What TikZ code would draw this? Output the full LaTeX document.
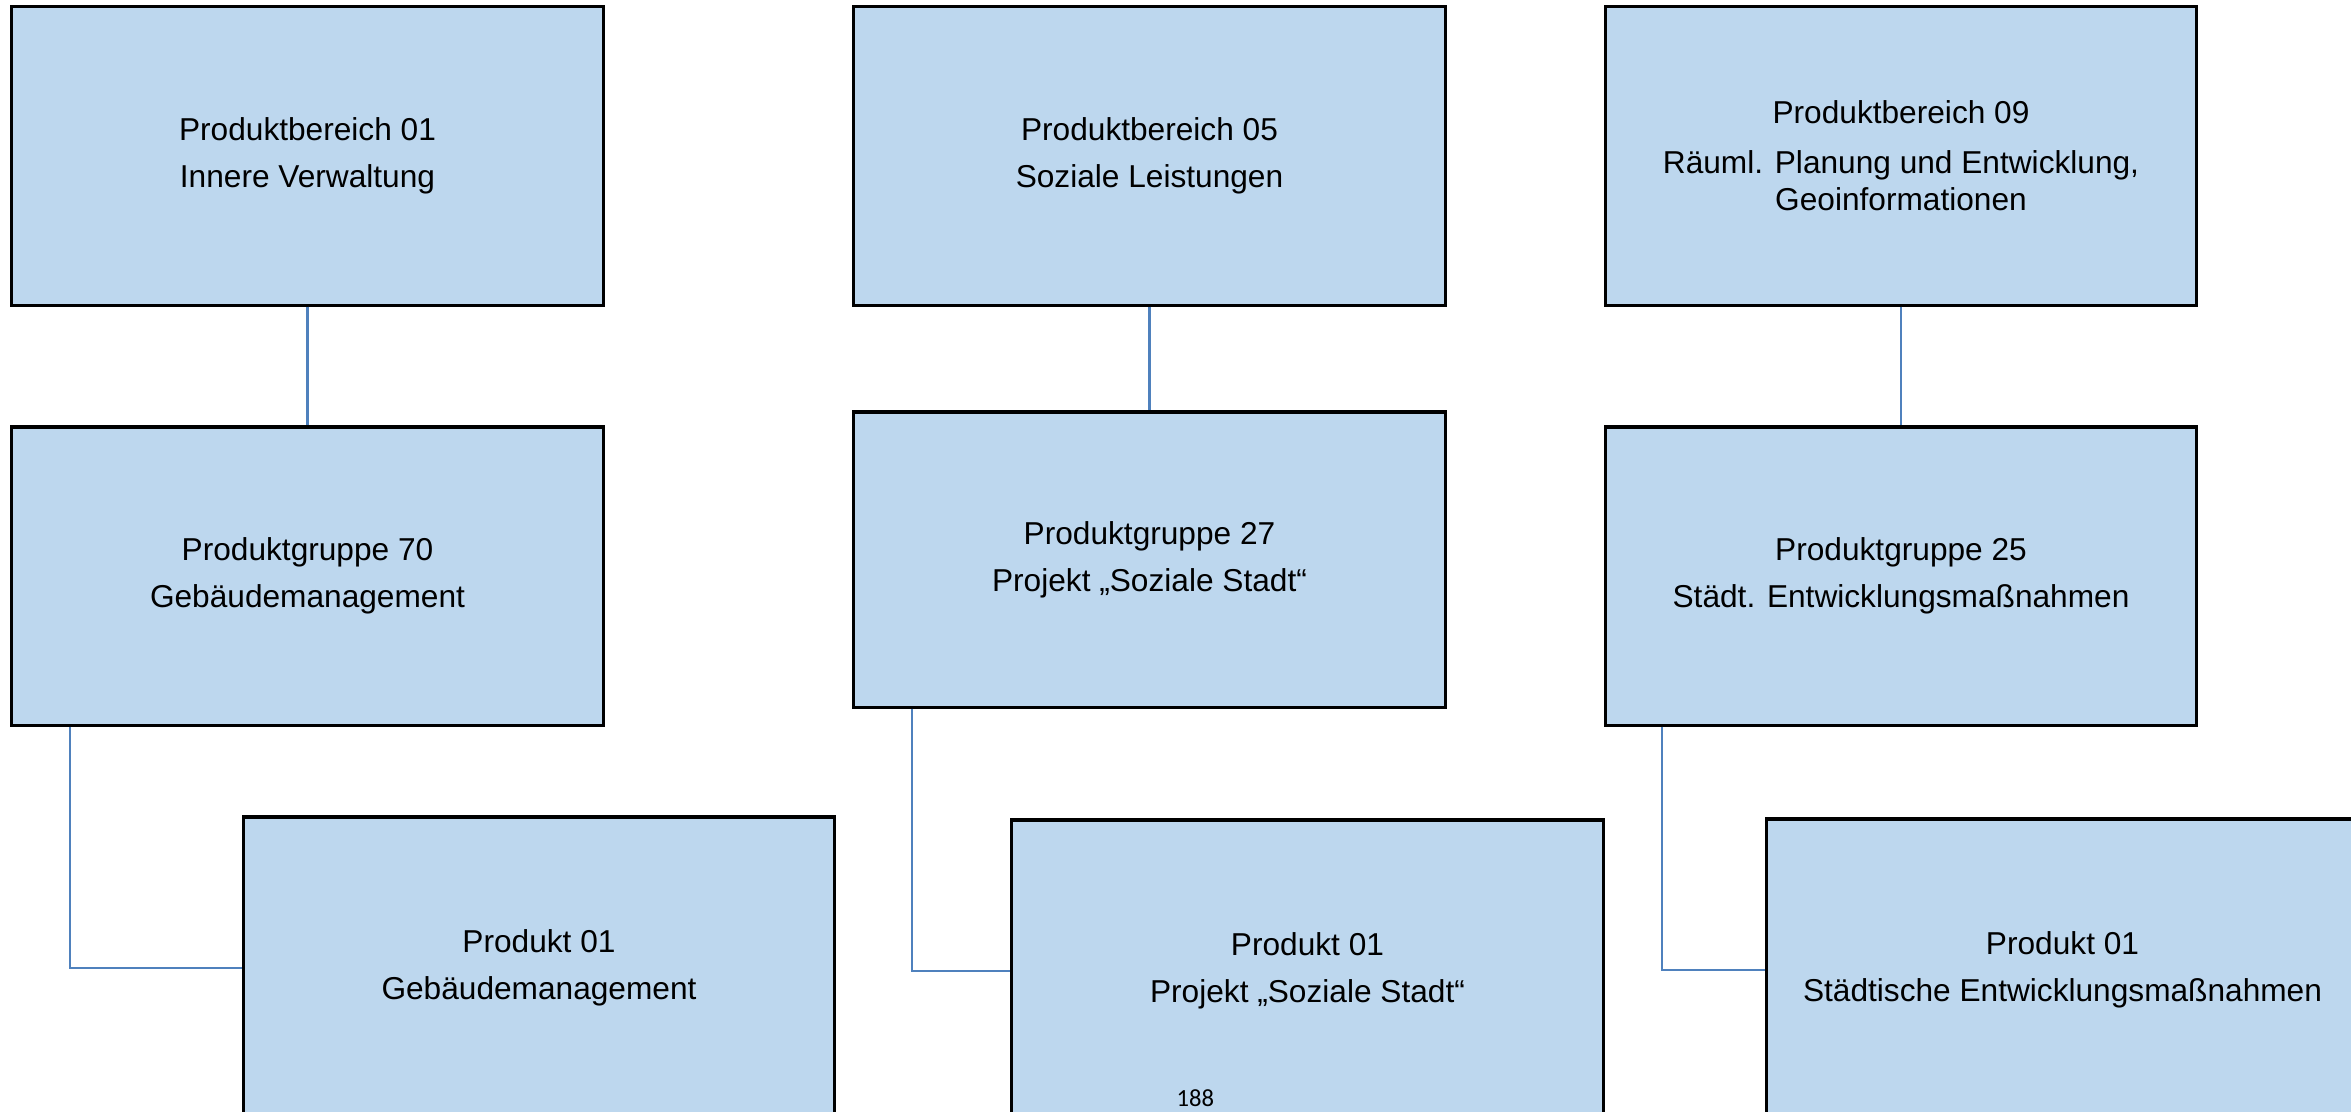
\documentclass[tikz,border=0pt]{standalone}
\usepackage{fontspec}
\setmainfont{Liberation Sans}
\newfontfamily\pagefont{Carlito}
\definecolor{boxblue}{RGB}{189,215,238}
\definecolor{linkblue}{RGB}{79,129,189}
\begin{document}
\begin{tikzpicture}
	[x=0.01cm,y=-0.01cm,
	box/.style={draw=black,line width=0.9pt,fill=boxblue,
		minimum width=5.91cm,minimum height=2.98cm,inner sep=0pt,
		align=center,font=\fontsize{9}{13.4}\selectfont},
	link/.style={draw=linkblue,line width=0.6pt}]
	\clip (0,0) rectangle (2351,1112);
	% Produktbereiche
	\node[box] (pb01) at (307.5,156) {Produktbereich 01\\Innere Verwaltung};
	\node[box] (pb05) at (1149.5,156) {Produktbereich 05\\Soziale Leistungen};
	\node[box,font=\fontsize{9}{10.5}\selectfont] (pb09) at (1901,156)
		{Produktbereich 09\\[3.7pt]Räuml. Planung und Entwicklung,\\Geoinformationen};
	% Produktgruppen
	\node[box] (pg70) at (307.5,576) {Produktgruppe 70\\Gebäudemanagement};
	\node[box,minimum height=2.95cm] (pg27) at (1149.5,559.5) {Produktgruppe 27\\Projekt „Soziale Stadt“};
	\node[box] (pg25) at (1901,576) {Produktgruppe 25\\Städt. Entwicklungsmaßnahmen};
	% Produkte
	\node[box,minimum height=3.02cm] (p7001) at (539,968) {Produkt 01\\Gebäudemanagement};
	\node[box,minimum height=3.02cm] (p2701) at (1307.5,971) {Produkt 01\\Projekt „Soziale Stadt“};
	\node[box,minimum height=3.02cm] (p2501) at (2062.5,970) {Produkt 01\\Städtische Entwicklungsmaßnahmen};
	% Verbindungen
	\draw[link] (pb01) -- (pg70);
	\draw[link] (pb05) -- (pg27);
	\draw[link] (pb09) -- (pg25);
	\draw[link] ([xshift=0.6cm]pg70.south west) |- (p7001.west);
	\draw[link] ([xshift=0.6cm]pg27.south west) |- (p2701.west);
	\draw[link] ([xshift=0.58cm]pg25.south west) |- (p2501.west);
	% Seitenzahl
	\node[anchor=base west,inner sep=0pt,font=\pagefont\fontsize{7}{8}\selectfont] (seite) at (1176,1106) {188};
\end{tikzpicture}
\end{document}
